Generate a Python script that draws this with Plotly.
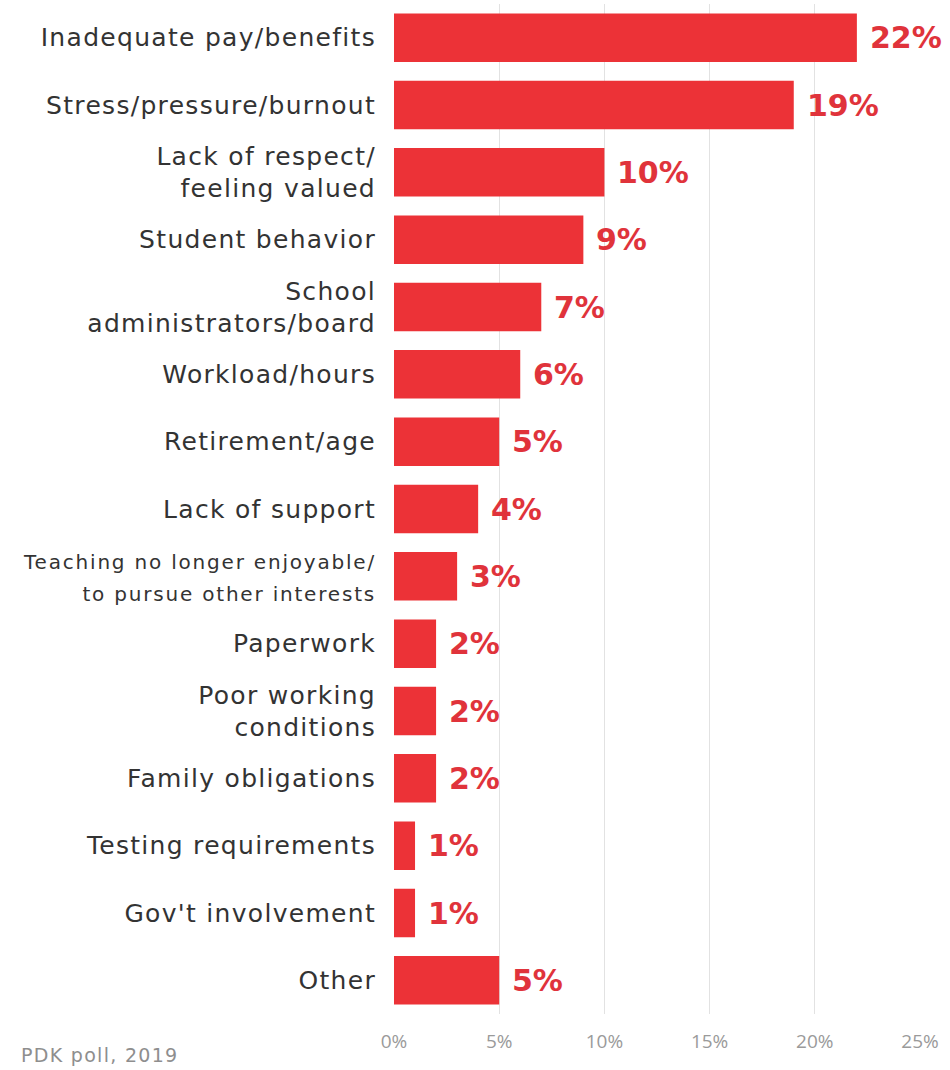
import plotly.graph_objects as go

# Reasons teachers give for leaving the profession
reasons = [
    "Inadequate pay/benefits",
    "Stress/pressure/burnout",
    "Lack of respect/<br>feeling valued",
    "Student behavior",
    "School<br>administrators/board",
    "Workload/hours",
    "Retirement/age",
    "Lack of support",
    "Teaching no longer enjoyable/<br>to pursue other interests",
    "Paperwork",
    "Poor working<br>conditions",
    "Family obligations",
    "Testing requirements",
    "Gov't involvement",
    "Other",
]
shares = [22, 19, 10, 9, 7, 6, 5, 4, 3, 2, 2, 2, 1, 1, 5]

x_ticks = [0, 5, 10, 15, 20, 25]
x_tick_text = ["0%", "5%", "10%", "15%", "20%", "25%"]

source_note = "PDK poll, 2019"

BAR_RED = "#ec3237"
LABEL_RED = "#e0333b"
FONT = "DejaVu Sans, Open Sans, sans-serif"
LIGHT_FONT = "Open Sans, DejaVu Sans, sans-serif"


def spaced(label):
    """Wrap each line of a label in a letter-spaced span; long labels get a smaller size."""
    if len(label) > 40:
        style = "letter-spacing:1.8px;font-size:20px"
    else:
        style = "letter-spacing:1.3px"
    return "<br>".join(f"<span style='{style}'>{line}</span>" for line in label.split("<br>"))


y_labels = [spaced(r) for r in reasons]

fig = go.Figure(
    go.Bar(
        x=shares,
        y=y_labels,
        orientation="h",
        marker=dict(color=BAR_RED, line=dict(width=0)),
        hoverinfo="skip",
    )
)

# Value labels just past the end of each bar
for lab, v in zip(y_labels, shares):
    fig.add_annotation(
        x=v, y=lab, xref="x", yref="y",
        text=f"<b>{v}%</b>",
        showarrow=False,
        xanchor="left", yanchor="middle",
        xshift=11,
        font=dict(family=FONT, size=30, color=LABEL_RED),
    )

# Source note in the bottom-left corner
fig.add_annotation(
    x=-0.713, y=-0.041, xref="paper", yref="paper",
    text=f"<span style='letter-spacing:1.3px'>{source_note}</span>",
    showarrow=False,
    xanchor="left", yanchor="middle",
    font=dict(family=FONT, size=19, color="#8e8e8e"),
)

fig.update_layout(
    width=950,
    height=1070,
    margin=dict(l=394, r=30, t=4, b=56),
    paper_bgcolor="white",
    plot_bgcolor="white",
    bargap=0.28,
    showlegend=False,
    font=dict(family=FONT, color="#333333"),
)

fig.update_xaxes(
    range=[0, 25],
    tickvals=x_ticks,
    ticktext=x_tick_text,
    showgrid=True,
    gridcolor="#e2e2e2",
    gridwidth=1,
    zeroline=False,
    showline=False,
    ticks="",
    ticklabelstandoff=14,
    tickfont=dict(family=LIGHT_FONT, size=19, color="#9a9a9a"),
    fixedrange=True,
)

fig.update_yaxes(
    categoryorder="array",
    categoryarray=y_labels[::-1],
    range=[-0.5, len(reasons) - 0.5],
    showgrid=False,
    zeroline=False,
    showline=False,
    ticks="",
    ticklabelstandoff=17,
    tickfont=dict(family=FONT, size=25, color="#333333"),
    fixedrange=True,
)

fig.write_html("out.html")
